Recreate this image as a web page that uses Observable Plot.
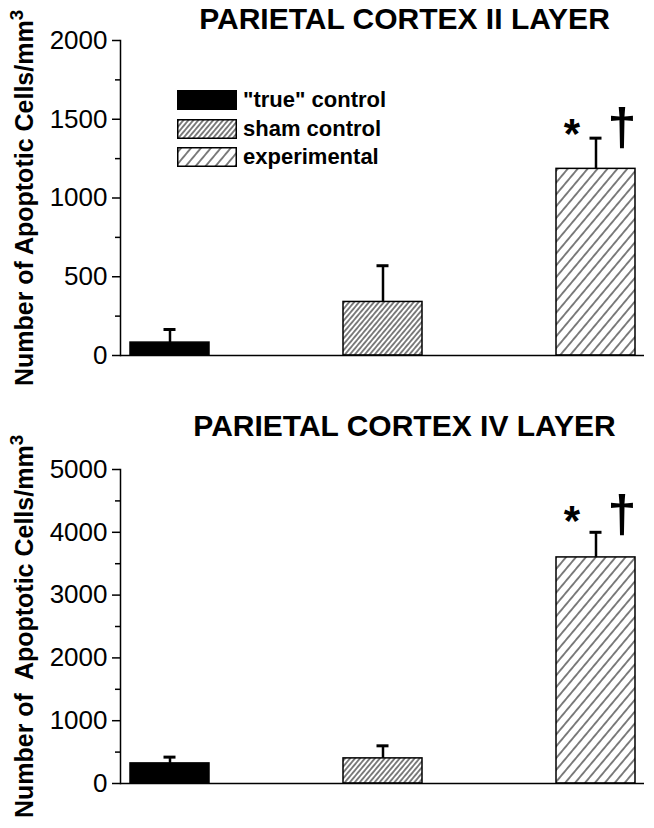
<!DOCTYPE html>
<html>
<head>
<meta charset="utf-8">
<script src="https://cdn.jsdelivr.net/npm/d3@7"></script>
<script src="https://cdn.jsdelivr.net/npm/@observablehq/plot@0.6"></script>
<style>
  html, body { margin: 0; padding: 0; background: #fff; }
  #page { position: relative; width: 654px; height: 828px; font-family: "Liberation Sans", Arial, sans-serif; }
  #page svg { display: block; }
  #legend { position: absolute; left: 177px; top: 90px; }
  .row { display: flex; align-items: center; height: 20px; margin-bottom: 8.5px; }
  .row svg { width: 60px; height: 20px; flex: none; }
  .row span { margin-left: 6px; font-weight: bold; font-size: 22px; line-height: 20px; color: #000; }
</style>
</head>
<body>
<div id="page"><div id="charts"></div><div id="legend"></div></div>
<script>
// ---- data ----
const groups = ['"true" control', "sham control", "experimental"];
const layer2Values = [82, 340, 1185];
const layer2Errors = [83, 230, 195];
const layer4Values = [320, 400, 3600];
const layer4Errors = [100, 200, 400];
const layer2Ticks = [0, 500, 1000, 1500, 2000];
const layer2Minor = [250, 750, 1250, 1750];
const layer4Ticks = [0, 1000, 2000, 3000, 4000, 5000];
const layer4Minor = [500, 1500, 2500, 3500, 4500];
const layer2Title = "PARIETAL CORTEX II LAYER";
const layer4Title = "PARIETAL CORTEX IV LAYER";
const layer2YLabel = "Number of Apoptotic Cells/mm\u00b3";
const layer4YLabel = "Number of\u00a0 Apoptotic Cells/mm\u00b3";
const significance = [{group: "experimental", label: "*"}, {group: "experimental", label: "\u2020"}];

// ---- styles ----
const fills = {
  '"true" control': "black",
  "sham control": "url(#hatchDense)",
  "experimental": "url(#hatchSparse)"
};
const patternDefs = `
  <pattern id="hatchDense" patternUnits="userSpaceOnUse" width="3.8" height="10" patternTransform="rotate(40)">
    <rect width="3.8" height="10" fill="white"/>
    <line x1="1.9" y1="0" x2="1.9" y2="10" stroke="black" stroke-width="1"/>
  </pattern>
  <pattern id="hatchSparse" patternUnits="userSpaceOnUse" width="7.6" height="10" patternTransform="rotate(40)">
    <rect width="7.6" height="10" fill="white"/>
    <line x1="3.8" y1="0" x2="3.8" y2="10" stroke="black" stroke-width="1"/>
  </pattern>`;

function defsMark() {
  const g = document.createElementNS("http://www.w3.org/2000/svg", "defs");
  g.innerHTML = patternDefs;
  return g;
}

function chart({values, errors, ticks, minor, ymax, title, yLabel, height, marginTop, marginBottom, titleDy, sigDy}) {
  const rows = groups.map((g, i) => ({group: g, value: values[i], err: errors[i], top: values[i] + errors[i]}));
  const expTop = rows[2].top;
  const sig = significance.map(s => ({...s, top: expTop}));
  return Plot.plot({
    width: 654,
    height,
    marginTop,
    marginBottom,
    marginLeft: 120,
    marginRight: 10,
    style: {fontFamily: "Liberation Sans, Arial, sans-serif", fontSize: "24px", color: "black", background: "white"},
    x: {domain: groups, paddingInner: 0.63, paddingOuter: 0.042, axis: null},
    y: {domain: [0, ymax], axis: null},
    color: {type: "identity"},
    marks: [
      defsMark,
      Plot.barY(rows, {x: "group", y: "value", fill: d => fills[d.group], stroke: "black", strokeWidth: 1.5}),
      Plot.ruleX(rows, {x: "group", y1: "value", y2: "top", stroke: "black", strokeWidth: 2.5}),
      Plot.tickY(rows, {x: "group", y: "top", stroke: "black", strokeWidth: 3, insetLeft: 33.5, insetRight: 33.5}),
      Plot.frame({anchor: "left", stroke: "black", strokeWidth: 1.5}),
      Plot.ruleY([0], {stroke: "black", strokeWidth: 1.5}),
      Plot.axisY({ticks, tickSize: 8, tickPadding: 5, fontSize: 26, tickFormat: d => String(d), label: null, stroke: "black", strokeWidth: 1.5}),
      Plot.axisY({ticks: minor, tickSize: 5, tickFormat: () => "", label: null, stroke: "black", strokeWidth: 1.5}),
      Plot.text([title], {frameAnchor: "top", dx: 22, dy: titleDy, fontSize: 30, fontWeight: "bold", lineAnchor: "middle"}),
      Plot.text([yLabel], {frameAnchor: "left", dx: -96, rotate: -90, textAnchor: "middle", fontSize: 25, fontWeight: "bold", lineAnchor: "middle", className: "ylabel"}),
      Plot.text(sig.filter(s => s.label === "*"), {x: "group", y: "top", text: "label", dx: -24, dy: sigDy + 6, fontSize: 42, fontWeight: "bold", lineAnchor: "middle"}),
      Plot.text(sig.filter(s => s.label !== "*"), {x: "group", y: "top", text: "label", dx: 26, dy: sigDy, fontSize: 52, fontWeight: "bold", lineAnchor: "middle"})
    ]
  });
}

// render the trailing "³" of the unit as a raised superscript tspan
function superscriptUnits(svg) {
  svg.querySelectorAll("text").forEach(t => {
    const s = t.textContent;
    if (s.endsWith("\u00b3") && !t.querySelector("tspan")) {
      t.textContent = s.slice(0, -1);
      const sup = document.createElementNS("http://www.w3.org/2000/svg", "tspan");
      sup.setAttribute("baseline-shift", "super");
      sup.setAttribute("font-size", "75%");
      sup.textContent = "3";
      t.append(sup);
    }
  });
  return svg;
}

const charts = document.getElementById("charts");
charts.append(superscriptUnits(chart({
  values: layer2Values, errors: layer2Errors, ticks: layer2Ticks, minor: layer2Minor, ymax: 2000,
  title: layer2Title, yLabel: layer2YLabel, height: 410, marginTop: 40, marginBottom: 55, titleDy: -21, sigDy: -10
})));
charts.append(superscriptUnits(chart({
  values: layer4Values, errors: layer4Errors, ticks: layer4Ticks, minor: layer4Minor, ymax: 5000,
  title: layer4Title, yLabel: layer4YLabel, height: 418, marginTop: 59, marginBottom: 45, titleDy: -43, sigDy: -17
})));

// legend
const legend = document.getElementById("legend");
for (const g of groups) {
  const row = document.createElement("div");
  row.className = "row";
  const fill = fills[g].replace("#hatch", "#lg");
  row.innerHTML = `<svg viewBox="0 0 60 20"><defs>${patternDefs.replace(/hatch/g, "lg")}</defs>
    <rect x="0.75" y="0.75" width="58.5" height="18.5" fill="${fill}" stroke="black" stroke-width="1.5"/></svg><span>${g}</span>`;
  legend.append(row);
}
</script>
</body>
</html>
